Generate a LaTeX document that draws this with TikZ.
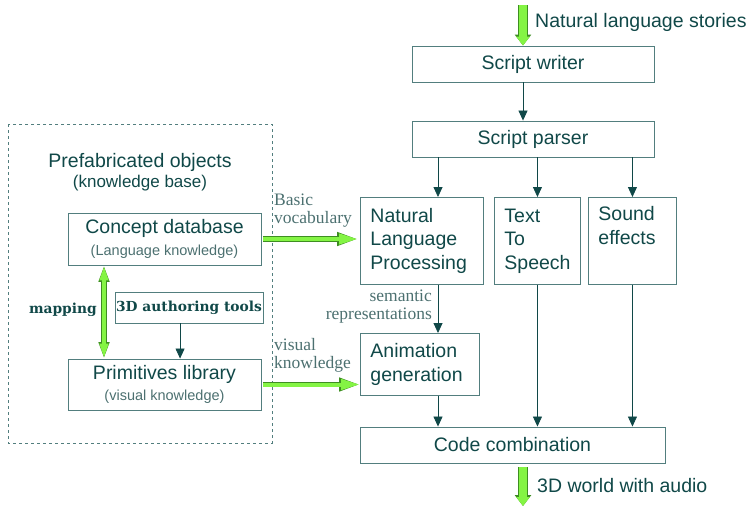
\documentclass[tikz,border=0pt]{standalone}
\usepackage{fontspec}
\setmainfont{Liberation Sans}
\newfontfamily\notefont{Liberation Serif}
\newfontfamily\slabfont{DejaVu Serif}
\usetikzlibrary{arrows.meta,positioning,calc}
\definecolor{inkteal}{HTML}{104848}
\definecolor{boxteal}{HTML}{527E7E}
\definecolor{softteal}{HTML}{4C7070}
\definecolor{limefill}{HTML}{84F444}
\definecolor{limeedge}{HTML}{3E8E22}
\newcommand{\mainsize}{\fontsize{19.5}{23.5}\selectfont}
\newcommand{\subsize}{\fontsize{14.5}{17}\selectfont}

\begin{document}
\begin{tikzpicture}[x=1pt,y=-1pt,
  box/.style={draw=boxteal,line width=0.9pt,text=inkteal,inner sep=0pt,font=\mainsize},
  procbox/.style={box,anchor=north west,align=left,inner xsep=10pt},
  plain/.style={text=inkteal,inner sep=0pt,font=\mainsize},
  note/.style={text=softteal,inner sep=0pt,align=left,font=\notefont\fontsize{17.5}{18}\selectfont},
  slab/.style={text=inkteal,font=\slabfont\bfseries\fontsize{13.8}{16}\selectfont},
  flow/.style={draw=inkteal,line width=0.8pt,-{Triangle[length=10pt,width=9pt]}},
  frame/.style={draw=boxteal,line width=0.8pt,dash pattern=on 3pt off 3pt},
  bigarrow/.style={draw=limefill,line width=8pt,-{Triangle[length=9pt,width=13pt]},
    preaction={draw=limeedge,line width=10pt,-{Triangle[length=11pt,width=16pt]}}},
  midarrow/.style={draw=limefill,line width=4pt,-{Triangle[length=19pt,width=10pt]},
    preaction={draw=limeedge,line width=5.6pt,-{Triangle[length=21pt,width=12.5pt]}}},
  maparrow/.style={draw=limefill,line width=4pt,{Triangle[length=15pt,width=8pt]}-{Triangle[length=15pt,width=8pt]},
    preaction={draw=limeedge,line width=5.6pt,{Triangle[length=16.5pt,width=10pt]}-{Triangle[length=16.5pt,width=10pt]}}}]
  \useasboundingbox (0,0) rectangle (751,506); % 画像の範囲

  % 右側の処理の流れ
  \node[box,minimum width=242pt,minimum height=36pt] (writer) at (533,64) {Script writer};
  \node[box,minimum width=242pt,minimum height=36pt] (parser) at (533,139) {Script parser};
  \node[procbox,text width=103pt,minimum height=87pt] (nlp) at (360,197) {Natural\\Language\\Processing};
  \node[procbox,text width=66pt,minimum height=87pt] (tts) at (494,197) {Text\\To\\Speech};
  \node[procbox,text width=68pt,minimum height=87pt] (sound) at (588,197) {Sound\\effects\\\strut};
  \node[procbox,text width=99pt,minimum height=62pt] (anim) at (360,333) {Animation\\generation};
  \node[box,minimum width=305pt,minimum height=36pt] (code) at (512.5,445) {Code combination};

  % 左側の知識ベース
  \draw[frame] (8,124) rectangle (272,443); % 点線の枠
  \node[plain] (prefab) at (140,162) {Prefabricated objects};
  \node[plain,font=\fontsize{17}{20}\selectfont] (kbase) at (140,183) {(knowledge base)};
  \node[box,align=center,minimum width=193pt,minimum height=52pt] (concept) at (164.5,239)
    {Concept database\\[-2pt]{\subsize\color{softteal}(Language knowledge)}};
  \node[box,align=center,minimum width=193pt,minimum height=51pt] (prim) at (164.5,384.5)
    {Primitives library\\[-2pt]{\subsize\color{softteal}(visual knowledge)}};
  \node[box,slab,minimum width=148pt,minimum height=31pt] (tools) at (189,307.5) {3D authoring tools};
  \node[slab,inner sep=0pt,anchor=east] (maplabel) at (97,310) {mapping};

  % 矢印の位置
  \coordinate (storytop) at (523,5); % 入力の矢印の始点
  \coordinate (worldend) at (523,506); % 出力の矢印の終点
  \coordinate (nlpcol) at (438,0); % NLPの列
  \coordinate (mapcol) at (104,0); % mappingの列
  \coordinate (toolsfoot) at ($(tools.south west)!0.44!(tools.south east)$); % ツールの矢印の始点

  % 細い矢印
  \draw[flow] (writer.south -| storytop) -- (parser.north -| storytop);
  \draw[flow] (parser.south -| nlpcol) -- (nlp.north -| nlpcol);
  \draw[flow] (parser.south -| tts.north) -- (tts.north);
  \draw[flow] (parser.south -| sound.north) -- (sound.north);
  \draw[flow] (nlp.south -| nlpcol) -- (anim.north -| nlpcol);
  \draw[flow] (anim.south -| nlpcol) -- (code.north -| nlpcol);
  \draw[flow] (tts.south) -- (code.north -| tts.south);
  \draw[flow] (sound.south) -- (code.north -| sound.south);
  \draw[flow] (toolsfoot) -- (toolsfoot |- prim.north);

  % 緑の矢印
  \draw[bigarrow] (storytop) -- (storytop |- writer.north);
  \draw[bigarrow,shorten <=4pt] (code.south -| worldend) -- (worldend);
  \draw[midarrow,shorten <=2pt,shorten >=2pt] (concept.east) -- (concept.east -| nlp.west);
  \draw[midarrow,shorten <=2pt] (prim.east) -- (prim.east -| anim.west);
  \draw[maparrow] (concept.south -| mapcol) -- (prim.north -| mapcol);

  % ラベル
  \node[plain,anchor=west] (storylabel) at (535,22) {Natural language stories};
  \node[plain,anchor=west] (worldlabel) at (537,486) {3D world with audio};
  \node[note,anchor=north west] (vocab) at (274,194) {Basic\\vocabulary};
  \node[note,anchor=north east,align=right] (semrep) at (432,290) {semantic\\representations};
  \node[note,anchor=north west] (visknow) at (274,338) {visual\\knowledge};
\end{tikzpicture}
\end{document}
